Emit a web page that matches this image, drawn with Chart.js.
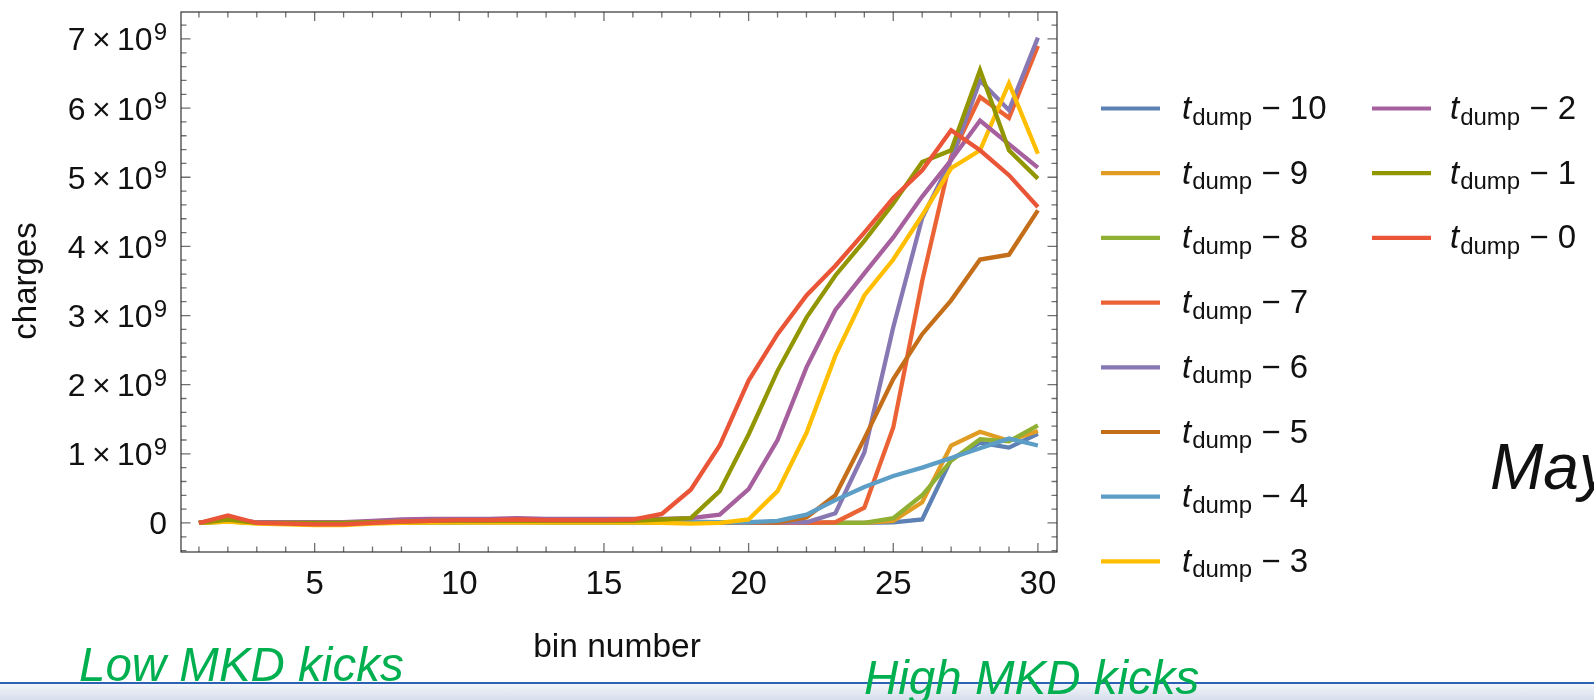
<!DOCTYPE html>
<html>
<head>
<meta charset="utf-8">
<title>charges vs bin number</title>
<script src="https://cdn.jsdelivr.net/npm/chart.js@4.4.1/dist/chart.umd.min.js"></script>
<style>
  html, body { margin: 0; padding: 0; background: #fff; }
  .stage { position: relative; width: 1594px; height: 700px; overflow: hidden; }
  .band {
    position: absolute; left: 0; top: 682px; width: 1594px; height: 18px;
    border-top: 2px solid #2c62b4;
    background: linear-gradient(#f2f5fa, #d3dcea);
  }
  #chart { position: absolute; left: 0; top: 0; }
</style>
</head>
<body>
<div class="stage">
  <div class="band"></div>
  <canvas id="chart" width="1594" height="700"></canvas>
</div>
<script>
// bin numbers on the x axis
const bins = [1, 2, 3, 4, 5, 6, 7, 8, 9, 10, 11, 12, 13, 14, 15, 16, 17, 18, 19, 20, 21, 22, 23, 24, 25, 26, 27, 28, 29, 30];

// offsets before the dump (legend: t_dump - n)
const dumpOffsets = [10, 9, 8, 7, 6, 5, 4, 3, 2, 1, 0];

// Mathematica default palette, one per offset
const lineColors = ["#5E81B5", "#E19C24", "#8FB032", "#EB6235", "#8778B3", "#C56E1A", "#5D9EC7", "#FFBF00", "#A5609D", "#929600", "#E95536"];

// charges per bin, in units of 10^9
const tdump10 = [0.0, 0.03, 0.0, 0.0, 0.0, 0.0, 0.01, 0.01, 0.01, 0.01, 0.01, 0.01, 0.01, 0.01, 0.01, 0.01, 0.01, 0.0, 0.0, 0.0, 0.0, 0.0, 0.0, 0.0, 0.01, 0.05, 0.92, 1.16, 1.09, 1.29];
const tdump9 = [0.0, 0.02, 0.0, -0.01, -0.01, -0.01, 0.0, 0.0, 0.01, 0.01, 0.01, 0.01, 0.01, 0.01, 0.01, 0.01, 0.0, 0.0, 0.0, 0.0, 0.0, 0.0, 0.0, 0.0, 0.03, 0.3, 1.12, 1.32, 1.19, 1.33];
const tdump8 = [0.0, 0.02, 0.0, 0.0, 0.0, 0.0, 0.0, 0.01, 0.01, 0.01, 0.02, 0.02, 0.01, 0.01, 0.01, 0.01, 0.01, 0.01, 0.0, 0.0, 0.0, 0.0, 0.0, 0.0, 0.07, 0.4, 0.9, 1.21, 1.18, 1.41];
const tdump7 = [0.0, 0.05, 0.0, -0.01, -0.01, -0.01, 0.0, 0.01, 0.02, 0.02, 0.02, 0.02, 0.02, 0.02, 0.02, 0.02, 0.01, 0.01, 0.01, 0.0, 0.0, 0.0, 0.01, 0.22, 1.38, 3.5, 5.3, 6.16, 5.86, 6.9];
const tdump6 = [0.0, 0.04, 0.0, 0.0, 0.0, 0.0, 0.01, 0.02, 0.03, 0.03, 0.03, 0.03, 0.03, 0.03, 0.03, 0.03, 0.02, 0.02, 0.01, 0.01, 0.01, 0.01, 0.14, 1.02, 2.83, 4.41, 5.25, 6.4, 5.97, 7.02];
const tdump5 = [0.0, 0.04, 0.0, -0.01, -0.01, -0.01, 0.0, 0.01, 0.02, 0.02, 0.02, 0.03, 0.02, 0.02, 0.02, 0.02, 0.02, 0.01, 0.01, 0.01, 0.01, 0.08, 0.4, 1.22, 2.08, 2.73, 3.22, 3.81, 3.88, 4.52];
const tdump4 = [0.0, 0.08, 0.0, 0.0, 0.0, 0.0, 0.01, 0.02, 0.02, 0.02, 0.02, 0.02, 0.02, 0.02, 0.02, 0.02, 0.01, 0.01, 0.01, 0.01, 0.03, 0.12, 0.33, 0.52, 0.68, 0.8, 0.94, 1.08, 1.22, 1.12];
const tdump3 = [0.0, 0.02, -0.01, -0.02, -0.03, -0.03, -0.01, 0.0, 0.01, 0.01, 0.01, 0.01, 0.01, 0.01, 0.01, 0.01, 0.0, -0.01, 0.0, 0.05, 0.46, 1.3, 2.42, 3.29, 3.81, 4.45, 5.13, 5.39, 6.36, 5.34];
const tdump2 = [0.0, 0.06, 0.01, 0.01, 0.01, 0.01, 0.03, 0.05, 0.06, 0.06, 0.06, 0.07, 0.06, 0.06, 0.06, 0.06, 0.06, 0.07, 0.12, 0.49, 1.2, 2.25, 3.08, 3.61, 4.13, 4.72, 5.25, 5.82, 5.48, 5.14];
const tdump1 = [0.0, 0.05, 0.0, 0.0, 0.0, 0.0, 0.01, 0.02, 0.03, 0.03, 0.03, 0.03, 0.03, 0.03, 0.03, 0.03, 0.05, 0.07, 0.46, 1.28, 2.2, 2.97, 3.58, 4.08, 4.62, 5.22, 5.39, 6.55, 5.39, 4.98];
const tdump0 = [0.0, 0.11, 0.0, -0.01, -0.02, -0.02, 0.0, 0.02, 0.03, 0.04, 0.04, 0.05, 0.04, 0.04, 0.04, 0.05, 0.13, 0.48, 1.12, 2.06, 2.73, 3.29, 3.72, 4.2, 4.7, 5.1, 5.68, 5.39, 5.03, 4.57];

const seriesValues = [tdump10, tdump9, tdump8, tdump7, tdump6, tdump5, tdump4, tdump3, tdump2, tdump1, tdump0];

const xTickLabels = [5, 10, 15, 20, 25, 30];
const yTickLabels = [0, 1, 2, 3, 4, 5, 6, 7];

const FONT = "'Liberation Sans', Arial, sans-serif";
const ctx = document.getElementById("chart");

// Mathematica style frame: inward ticks on all four sides, labels bottom/left
const framePlugin = {
  id: "frame",
  afterDatasetsDraw(chart) {
    const { ctx, chartArea: a, scales: { x, y } } = chart;
    ctx.save();
    ctx.strokeStyle = "#707070";
    ctx.lineWidth = 1.3;
    ctx.beginPath();
    bins.forEach((b) => {
      const px = x.getPixelForValue(b);
      const len = xTickLabels.includes(b) ? 9 : 5.5;
      ctx.moveTo(px, a.bottom); ctx.lineTo(px, a.bottom - len);
      ctx.moveTo(px, a.top); ctx.lineTo(px, a.top + len);
    });
    for (let k = -2; k <= 36; k++) {
      const v = k / 5;
      const py = y.getPixelForValue(v);
      if (py < a.top || py > a.bottom) continue;
      const len = k % 5 === 0 ? 9.5 : 5.5;
      ctx.moveTo(a.left, py); ctx.lineTo(a.left + len, py);
      ctx.moveTo(a.right, py); ctx.lineTo(a.right - len, py);
    }
    ctx.stroke();

    ctx.strokeStyle = "#333";
    ctx.lineWidth = 1.2;
    ctx.strokeRect(a.left, a.top, a.right - a.left, a.bottom - a.top);
    ctx.restore();
  },
  afterDraw(chart) {
    const { ctx, scales: { x, y } } = chart;
    ctx.save();
    ctx.fillStyle = "#111";

    // x tick labels
    ctx.font = "33px " + FONT;
    ctx.textAlign = "center";
    ctx.textBaseline = "alphabetic";
    xTickLabels.forEach((v) => ctx.fillText(String(v), x.getPixelForValue(v), 594));

    // y tick labels like 7 x 10^9
    ctx.textAlign = "left";
    yTickLabels.forEach((v) => {
      const py = y.getPixelForValue(v);
      const right = 167;
      if (v === 0) {
        ctx.font = "32px " + FONT;
        ctx.fillText("0", right - ctx.measureText("0").width, py + 11.5);
        return;
      }
      const base = v + "\u2009\u00d7\u200910";
      ctx.font = "32px " + FONT;
      const wb = ctx.measureText(base).width;
      ctx.font = "24px " + FONT;
      const ws = ctx.measureText("9").width;
      const x0 = right - wb - ws - 1;
      ctx.font = "32px " + FONT;
      ctx.fillText(base, x0, py + 11.5);
      ctx.font = "24px " + FONT;
      ctx.fillText("9", x0 + wb + 1, py + 1);
    });

    // axis titles
    ctx.font = "33.5px " + FONT;
    ctx.textAlign = "center";
    ctx.fillText("bin number", 617, 657);
    ctx.save();
    ctx.translate(36, 281);
    ctx.rotate(-Math.PI / 2);
    ctx.font = "33px " + FONT;
    ctx.fillText("charges", 0, 0);
    ctx.restore();

    // legend, two columns
    chart.data.datasets.forEach((ds, i) => {
      const col = i < 8 ? 0 : 1;
      const row = i < 8 ? i : i - 8;
      const sx = [1101, 1372][col];
      const tx = [1182, 1450][col];
      const ry = 108.5 + row * 64.7;
      ctx.strokeStyle = ds.borderColor;
      ctx.lineWidth = 4.2;
      ctx.beginPath();
      ctx.moveTo(sx, ry); ctx.lineTo(sx + 59, ry);
      ctx.stroke();

      ctx.fillStyle = "#111";
      ctx.textAlign = "left";
      ctx.font = "italic 33px " + FONT;
      ctx.fillText("t", tx, ry + 10.5);
      let cx = tx + ctx.measureText("t").width + 1;
      ctx.font = "24px " + FONT;
      ctx.fillText("dump", cx, ry + 16);
      cx += ctx.measureText("dump").width;
      ctx.font = "33px " + FONT;
      ctx.fillText(" \u2212 " + dumpOffsets[i], cx, ry + 10.5);
    });

    // slide annotations
    ctx.textAlign = "left";
    ctx.fillStyle = "#111";
    ctx.font = "italic 64px " + FONT;
    ctx.fillText("May", 1490, 489);
    ctx.fillStyle = "#00B050";
    ctx.font = "italic 47.5px " + FONT;
    ctx.fillText("Low MKD kicks", 79, 681);
    ctx.fillText("High MKD kicks", 864, 694);
    ctx.restore();
  },
};

new Chart(ctx, {
  type: "line",
  data: {
    datasets: seriesValues.map((vals, i) => ({
      label: "t_dump - " + dumpOffsets[i],
      data: bins.map((b, j) => ({ x: b, y: vals[j] })),
      borderColor: lineColors[i],
      backgroundColor: lineColors[i],
      order: dumpOffsets[i],
    })),
  },
  options: {
    responsive: false,
    animation: false,
    events: [],
    layout: { padding: { left: 181, top: 12, right: 537, bottom: 148 } },
    plugins: { legend: { display: false }, tooltip: { enabled: false } },
    elements: {
      point: { radius: 0 },
      line: { tension: 0, borderWidth: 4.3 },
    },
    scales: {
      x: { type: "linear", min: 0.38, max: 30.66, display: false },
      y: { min: -0.42, max: 7.39, display: false },
    },
  },
  plugins: [framePlugin],
});
</script>
</body>
</html>
